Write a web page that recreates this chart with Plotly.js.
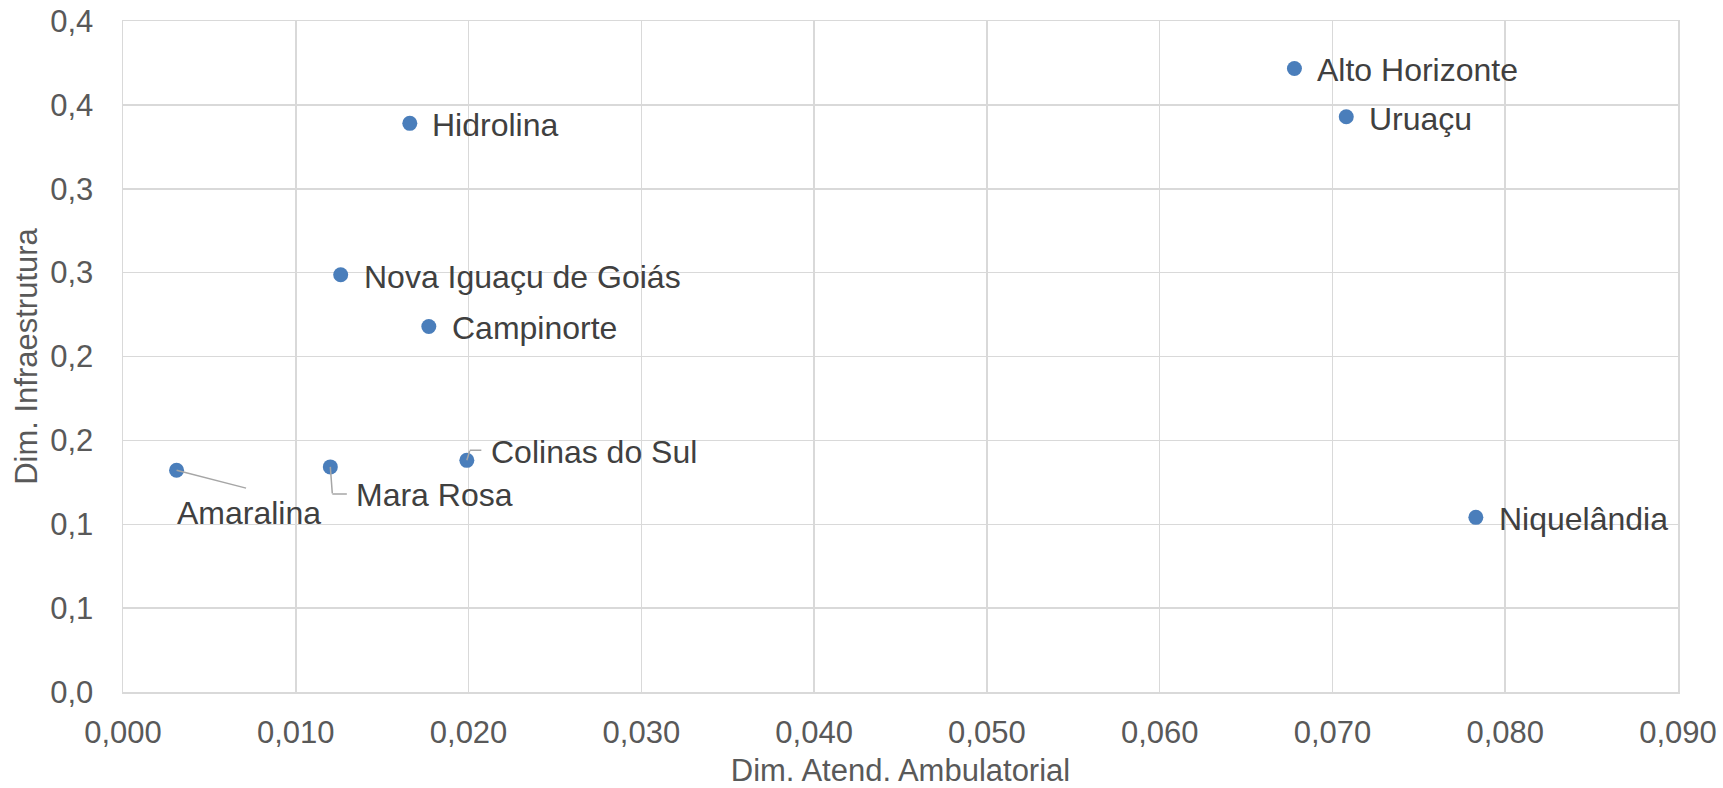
<!DOCTYPE html>
<html>
<head>
<meta charset="utf-8">
<script src="https://cdn.plot.ly/plotly-3.0.1.min.js"></script>
<style>html,body{margin:0;padding:0;background:#fff;}#chart{width:1723px;height:788px;}</style>
</head>
<body>
<div id="chart"></div>
<script>
// ---- data ----
var municipios = ["Alto Horizonte", "Uruaçu", "Hidrolina", "Nova Iguaçu de Goiás", "Campinorte",
                  "Colinas do Sul", "Mara Rosa", "Amaralina", "Niquelândia"];
var atendAmbulatorial = [0.0678, 0.0708, 0.0166, 0.0126, 0.0177, 0.0199, 0.0120, 0.0031, 0.0783];
var infraestrutura   = [0.3717, 0.3429, 0.3390, 0.2487, 0.2179, 0.1381, 0.1342, 0.1322, 0.1041];

var xTickVals = [0, 0.01, 0.02, 0.03, 0.04, 0.05, 0.06, 0.07, 0.08, 0.09];
var xTickText = ["0,000", "0,010", "0,020", "0,030", "0,040", "0,050", "0,060", "0,070", "0,080", "0,090"];
var yTickVals = [0, 0.05, 0.10, 0.15, 0.20, 0.25, 0.30, 0.35, 0.40];
var yTickText = ["0,0", "0,1", "0,1", "0,2", "0,2", "0,3", "0,3", "0,4", "0,4"];

// ---- label placement (pixels) ----
var labelShift = {
  "Alto Horizonte": [22, -2], "Uruaçu": [22, -2], "Hidrolina": [21, -2],
  "Nova Iguaçu de Goiás": [22, -2], "Campinorte": [22, -2], "Niquelândia": [22, -2],
  "Colinas do Sul": [23, 8], "Mara Rosa": [25, -28], "Amaralina": [-1, -43]
};
// leader segments: [xshift, yshift, ax, ay]
var leaders = {
  "Amaralina": [[0, 0, 70, 18]],
  "Mara Rosa": [[0, 0, 2, 27], [2, -27, 15, 0]],
  "Colinas do Sul": [[0, 0, 3, -10], [3, 10, 12, 0]]
};

var FONT = "Liberation Sans, Arial, sans-serif";
var annotations = [];
municipios.forEach(function (m, i) {
  var s = labelShift[m];
  annotations.push({
    x: atendAmbulatorial[i], y: infraestrutura[i], xref: "x", yref: "y",
    text: m, showarrow: false, xanchor: "left", yanchor: "middle",
    xshift: s[0], yshift: s[1], borderpad: 0,
    font: {family: FONT, size: 32, color: "#404040"}
  });
  (leaders[m] || []).forEach(function (seg) {
    annotations.push({
      x: atendAmbulatorial[i], y: infraestrutura[i], xref: "x", yref: "y",
      text: "", showarrow: true, arrowhead: 0, arrowwidth: 1.5, arrowcolor: "#a6a6a6",
      ax: seg[2], ay: seg[3], xshift: seg[0], yshift: seg[1], standoff: 0, borderpad: 0
    });
  });
});

var trace = {
  type: "scatter", mode: "markers",
  x: atendAmbulatorial, y: infraestrutura, text: municipios,
  marker: {size: 15, color: "#4a7ebb"},
  hoverinfo: "text+x+y", showlegend: false
};

var layout = {
  width: 1723, height: 788,
  margin: {l: 123, r: 45, t: 21, b: 96, pad: 0},
  paper_bgcolor: "#ffffff", plot_bgcolor: "#ffffff",
  font: {family: FONT, color: "#595959"},
  showlegend: false,
  xaxis: {
    range: [0, 0.09], tickvals: xTickVals, ticktext: xTickText,
    showgrid: true, gridcolor: "#d9d9d9", gridwidth: 1.5,
    showline: true, linecolor: "#d9d9d9", linewidth: 1.5, mirror: true,
    zeroline: false, ticks: "", ticklabelstandoff: 12,
    tickfont: {family: FONT, size: 31, color: "#595959"},
    title: {text: "Dim. Atend. Ambulatorial", standoff: 17, font: {family: FONT, size: 31, color: "#595959"}}
  },
  yaxis: {
    range: [0, 0.4], tickvals: yTickVals, ticktext: yTickText,
    showgrid: true, gridcolor: "#d9d9d9", gridwidth: 1.5,
    showline: true, linecolor: "#d9d9d9", linewidth: 1.5, mirror: true,
    zeroline: false, ticks: "", ticklabelstandoff: 22,
    tickfont: {family: FONT, size: 31, color: "#595959"},
    title: {text: "Dim. Infraestrutura", standoff: 3, font: {family: FONT, size: 31, color: "#595959"}}
  },
  annotations: annotations
};

Plotly.newPlot("chart", [trace], layout, {displayModeBar: false, staticPlot: true});
</script>
</body>
</html>
